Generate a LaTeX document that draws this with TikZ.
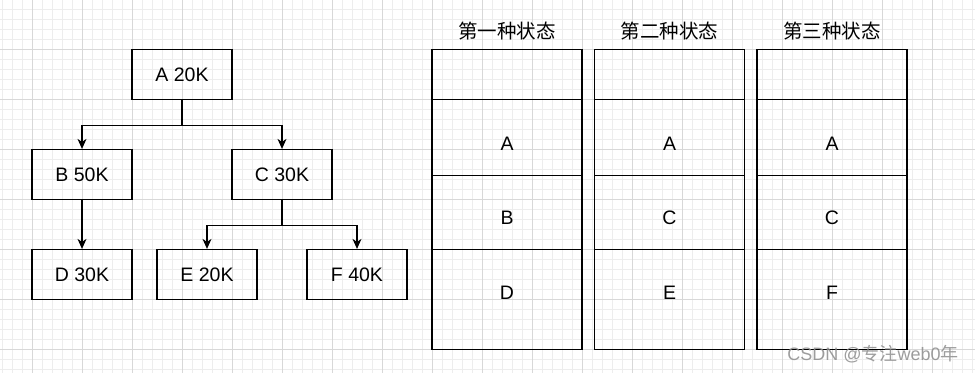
\documentclass[tikz,border=0pt]{standalone}
\usepackage{fontspec}
\setmainfont{Liberation Sans}
\newfontfamily\cjk{Noto Sans CJK SC}
\usetikzlibrary{arrows.meta}
\definecolor{gminor}{HTML}{EDEDED}
\definecolor{gmajor}{HTML}{D8D8D8}
\definecolor{wm}{HTML}{8C8C8C}
\begin{document}
\begin{tikzpicture}[x=1pt,y=-1pt,
  minorline/.style={gminor,line width=0.9pt},
  majorline/.style={gmajor,line width=1pt},
  box/.style={draw,line width=1.2pt,minimum width=100pt,minimum height=50pt,inner sep=0,font=\fontsize{19.5}{20}\selectfont},
  cell/.style={draw,line width=1.2pt,minimum width=150pt,inner sep=0},
  lbl/.style={font=\fontsize{19.5}{20}\selectfont,inner sep=0},
  head/.style={font=\cjk\fontsize{19.5}{22}\selectfont,inner sep=0},
  conn/.style={line width=1.2pt,-{Stealth[length=10pt,width=9pt,inset=3pt]}}]
\useasboundingbox (0,0) rectangle (975,373);
\fill[white] (0,0) rectangle (975,373);
% grid
\foreach \x in {2,12,...,972} \draw[minorline] (\x,0) -- (\x,373);
\foreach \y in {9.5,19.5,...,369.5} \draw[minorline] (0,\y) -- (975,\y);
\foreach \x in {32,82,...,932} \draw[majorline] (\x,0) -- (\x,373);
\foreach \y in {49.5,99.5,...,349.5} \draw[majorline] (0,\y) -- (975,\y);
% tree
\node[box] (A) at (182,74.5) {A 20K};
\node[box] (B) at (82,174.5) {B 50K};
\node[box] (C) at (282,174.5) {C 30K};
\node[box] (D) at (82,274.5) {D 30K};
\node[box] (E) at (207,274.5) {E 20K};
\node[box] (F) at (357,274.5) {F 40K};
\draw[conn] (A.south) -- ++(0,25) -| (B.north);
\draw[conn] (A.south) -- ++(0,25) -| (C.north);
\draw[conn] (B.south) -- (D.north);
\draw[conn] (C.south) -- ++(0,25) -| (E.north);
\draw[conn] (C.south) -- ++(0,25) -| (F.north);
% state tables
\foreach \i/\cx/\title/\la/\lb/\lc in {1/507/第一种状态/A/B/D, 2/669.5/第二种状态/A/C/E, 3/832/第三种状态/A/C/F}{
  \node[head] (h\i) at (\cx,31.5) {\title};
  \node[cell,minimum height=50pt] (t\i r0) at (\cx,74.5) {};
  \node[cell,minimum height=76pt] (t\i r1) at (\cx,137.5) {};
  \node[cell,minimum height=74pt] (t\i r2) at (\cx,212.5) {};
  \node[cell,minimum height=100pt] (t\i r3) at (\cx,299.5) {};
  \node[lbl] (l\i a) at (\cx,143.5) {\la};
  \node[lbl] (l\i b) at (\cx,218) {\lb};
  \node[lbl] (l\i c) at (\cx,293) {\lc};
}
% watermark
\node[text=wm,opacity=0.85,inner sep=0,font=\fontsize{18}{19}\selectfont] (wm) at (873,354) {CSDN @{\cjk 专注}web0{\cjk 年}};
\end{tikzpicture}
\end{document}
